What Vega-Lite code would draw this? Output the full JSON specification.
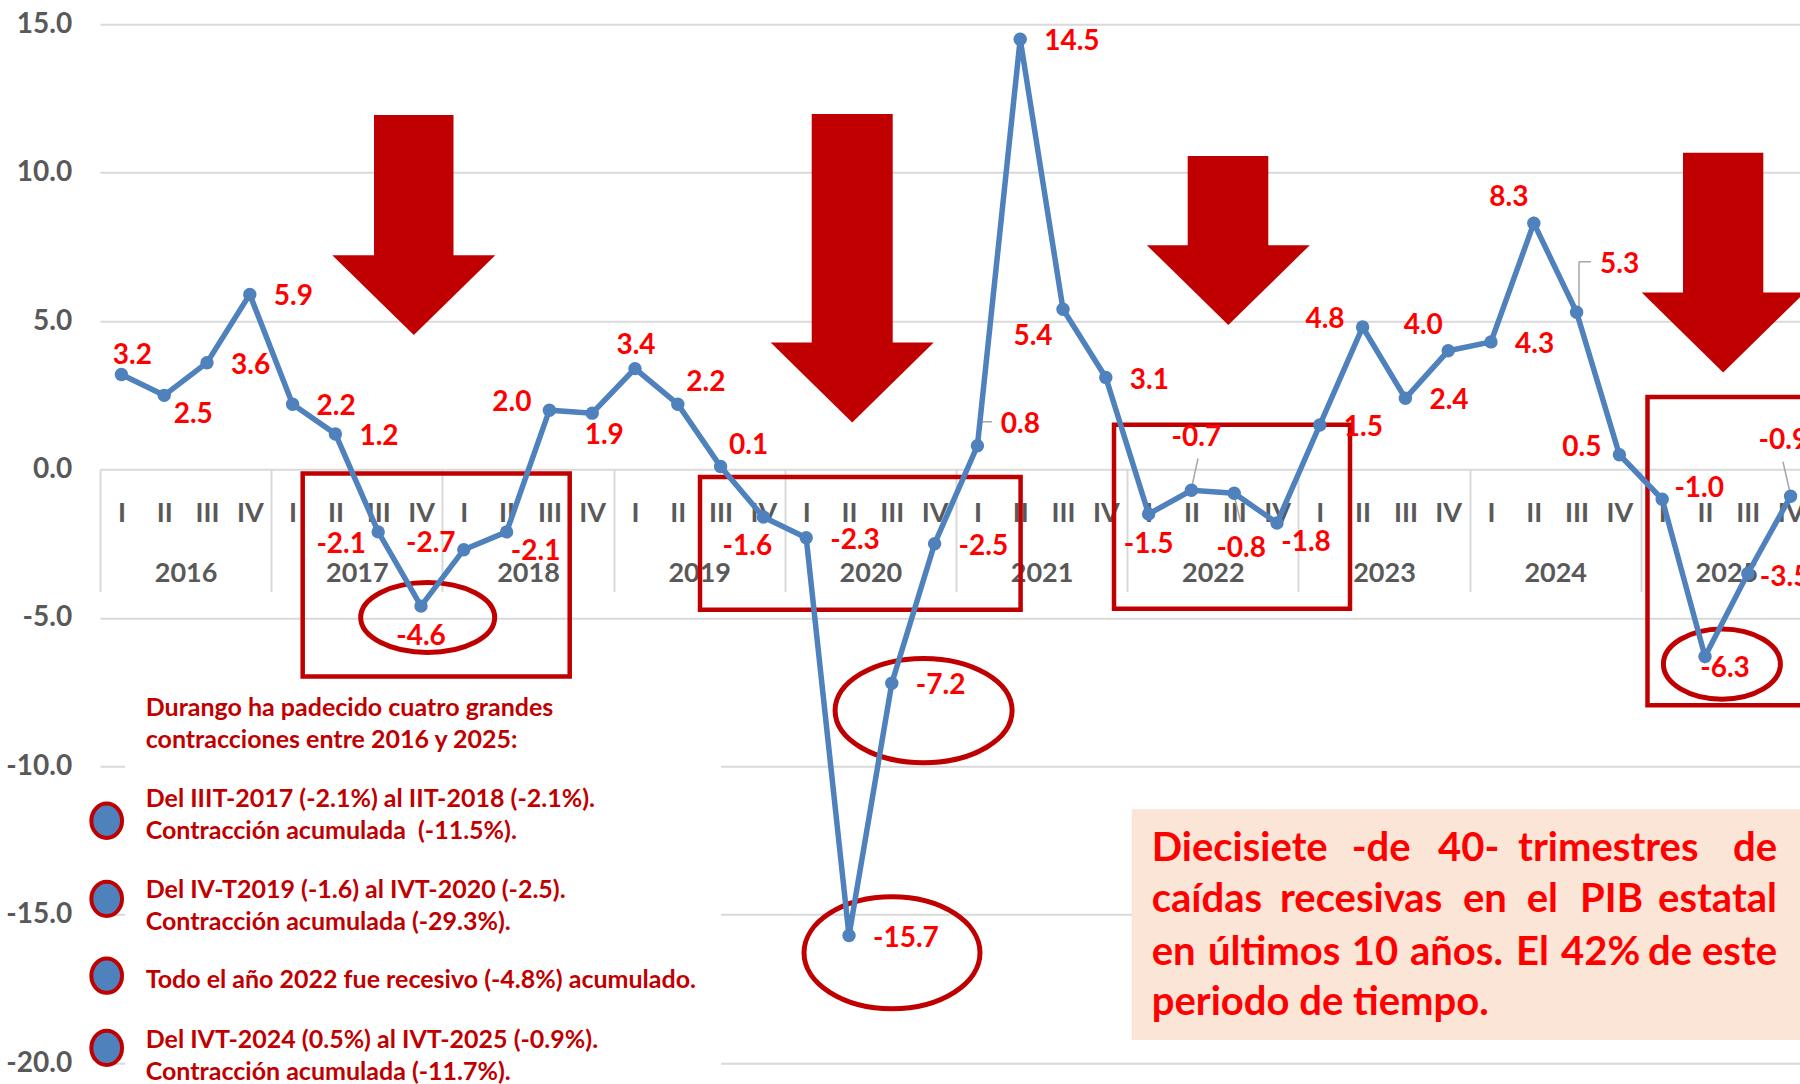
{
  "$schema": "https://vega.github.io/schema/vega-lite/v6.json",
  "width": 1700,
  "height": 1038.9,
  "autosize": {"type": "none"},
  "padding": {"left": 100, "top": 24.3, "right": 0, "bottom": 20.8},
  "background": "#FFFFFF",
  "config": {
    "view": {"stroke": null},
    "locale": {"number": {"decimal": ".", "thousands": ",", "grouping": [3], "currency": ["$", ""], "minus": "-"}},
    "text": {"font": "Lato", "fontWeight": "bold", "fontSize": 28, "color": "#FF0000", "baseline": "middle"}
  },
  "datasets": {
    "pib": [
      {"anio": 2016, "trim": "I", "periodo": 2016.125, "pib": 3.2},
      {"anio": 2016, "trim": "II", "periodo": 2016.375, "pib": 2.5},
      {"anio": 2016, "trim": "III", "periodo": 2016.625, "pib": 3.6},
      {"anio": 2016, "trim": "IV", "periodo": 2016.875, "pib": 5.9},
      {"anio": 2017, "trim": "I", "periodo": 2017.125, "pib": 2.2},
      {"anio": 2017, "trim": "II", "periodo": 2017.375, "pib": 1.2},
      {"anio": 2017, "trim": "III", "periodo": 2017.625, "pib": -2.1},
      {"anio": 2017, "trim": "IV", "periodo": 2017.875, "pib": -4.6},
      {"anio": 2018, "trim": "I", "periodo": 2018.125, "pib": -2.7},
      {"anio": 2018, "trim": "II", "periodo": 2018.375, "pib": -2.1},
      {"anio": 2018, "trim": "III", "periodo": 2018.625, "pib": 2.0},
      {"anio": 2018, "trim": "IV", "periodo": 2018.875, "pib": 1.9},
      {"anio": 2019, "trim": "I", "periodo": 2019.125, "pib": 3.4},
      {"anio": 2019, "trim": "II", "periodo": 2019.375, "pib": 2.2},
      {"anio": 2019, "trim": "III", "periodo": 2019.625, "pib": 0.1},
      {"anio": 2019, "trim": "IV", "periodo": 2019.875, "pib": -1.6},
      {"anio": 2020, "trim": "I", "periodo": 2020.125, "pib": -2.3},
      {"anio": 2020, "trim": "II", "periodo": 2020.375, "pib": -15.7},
      {"anio": 2020, "trim": "III", "periodo": 2020.625, "pib": -7.2},
      {"anio": 2020, "trim": "IV", "periodo": 2020.875, "pib": -2.5},
      {"anio": 2021, "trim": "I", "periodo": 2021.125, "pib": 0.8},
      {"anio": 2021, "trim": "II", "periodo": 2021.375, "pib": 14.5},
      {"anio": 2021, "trim": "III", "periodo": 2021.625, "pib": 5.4},
      {"anio": 2021, "trim": "IV", "periodo": 2021.875, "pib": 3.1},
      {"anio": 2022, "trim": "I", "periodo": 2022.125, "pib": -1.5},
      {"anio": 2022, "trim": "II", "periodo": 2022.375, "pib": -0.7},
      {"anio": 2022, "trim": "III", "periodo": 2022.625, "pib": -0.8},
      {"anio": 2022, "trim": "IV", "periodo": 2022.875, "pib": -1.8},
      {"anio": 2023, "trim": "I", "periodo": 2023.125, "pib": 1.5},
      {"anio": 2023, "trim": "II", "periodo": 2023.375, "pib": 4.8},
      {"anio": 2023, "trim": "III", "periodo": 2023.625, "pib": 2.4},
      {"anio": 2023, "trim": "IV", "periodo": 2023.875, "pib": 4.0},
      {"anio": 2024, "trim": "I", "periodo": 2024.125, "pib": 4.3},
      {"anio": 2024, "trim": "II", "periodo": 2024.375, "pib": 8.3},
      {"anio": 2024, "trim": "III", "periodo": 2024.625, "pib": 5.3},
      {"anio": 2024, "trim": "IV", "periodo": 2024.875, "pib": 0.5},
      {"anio": 2025, "trim": "I", "periodo": 2025.125, "pib": -1.0},
      {"anio": 2025, "trim": "II", "periodo": 2025.375, "pib": -6.3},
      {"anio": 2025, "trim": "III", "periodo": 2025.625, "pib": -3.5},
      {"anio": 2025, "trim": "IV", "periodo": 2025.875, "pib": -0.9}
    ],
    "flechas": [
      {"t1": 2017.6005, "t2": 2018.0648, "v1": 11.947, "v2": 7.1},
      {"t1": 2020.1572, "t2": 2020.6303, "v1": 11.974, "v2": 4.15},
      {"t1": 2022.3533, "t2": 2022.8242, "v1": 10.559, "v2": 7.43},
      {"t1": 2025.2465, "t2": 2025.7156, "v1": 10.67, "v2": 5.86}
    ],
    "puntas": [
      {"t": 2017.8329, "v": 5.877},
      {"t": 2020.3937, "v": 2.934},
      {"t": 2022.5906, "v": 6.214},
      {"t": 2025.4813, "v": 4.618}
    ],
    "cajas": [
      {"t1": 2017.184, "t2": 2018.7436, "v1": -0.135, "v2": -6.972},
      {"t1": 2019.5047, "t2": 2021.3773, "v1": -0.253, "v2": -4.722},
      {"t1": 2021.9229, "t2": 2023.3014, "v1": 1.509, "v2": -4.688},
      {"t1": 2025.0391, "t2": 2026.5, "v1": 2.442, "v2": -7.942}
    ],
    "guias": [
      {"t1": 2021.132, "v1": 0.882, "t2": 2021.132, "v2": 1.61},
      {"t1": 2021.132, "v1": 1.61, "t2": 2021.2103, "v2": 1.61},
      {"t1": 2022.3756, "v1": -0.633, "t2": 2022.4136, "v2": 0.377},
      {"t1": 2022.6238, "v1": -0.859, "t2": 2022.6624, "v2": -1.758},
      {"t1": 2024.639, "v1": 5.315, "t2": 2024.639, "v2": 6.999},
      {"t1": 2024.639, "v1": 6.999, "t2": 2024.7091, "v2": 6.999},
      {"t1": 2025.8773, "v1": -0.916, "t2": 2025.8306, "v2": 0.263}
    ],
    "vinetas": [
      {"t": 2016.0391, "v": -11.832},
      {"t": 2016.0391, "v": -14.463},
      {"t": 2016.0391, "v": -17.053},
      {"t": 2016.0391, "v": -19.485}
    ],
    "notas": [
      {"texto": "Durango ha padecido cuatro grandes", "t": 2016.2669, "v": -8.05},
      {"texto": "contracciones entre 2016 y 2025:", "t": 2016.2669, "v": -9.128},
      {"texto": "Del IIIT-2017 (-2.1%) al IIT-2018 (-2.1%).", "t": 2016.2669, "v": -11.098},
      {"texto": "Contracción acumulada \u00a0(-11.5%).", "t": 2016.2669, "v": -12.176},
      {"texto": "Del IV-T2019 (-1.6) al IVT-2020 (-2.5).", "t": 2016.2669, "v": -14.15},
      {"texto": "Contracción acumulada (-29.3%).", "t": 2016.2669, "v": -15.23},
      {"texto": "Todo el año 2022 fue recesivo (-4.8%) acumulado.", "t": 2016.2669, "v": -17.201},
      {"texto": "Del IVT-2024 (0.5%) al IVT-2025 (-0.9%).", "t": 2016.2669, "v": -19.215},
      {"texto": "Contracción acumulada (-11.7%).", "t": 2016.2669, "v": -20.293}
    ],
    "recuadro": [
      {"texto": "Diecisiete", "t": 2022.1431, "v": -12.775},
      {"texto": "-de", "t": 2023.3113, "v": -12.775},
      {"texto": "40-", "t": 2023.8154, "v": -12.775},
      {"texto": "trimestres", "t": 2024.2827, "v": -12.775},
      {"texto": "caídas", "t": 2022.1431, "v": -14.493},
      {"texto": "recesivas", "t": 2022.8925, "v": -14.493},
      {"texto": "en", "t": 2023.9614, "v": -14.493},
      {"texto": "el", "t": 2024.3335, "v": -14.493},
      {"texto": "PIB", "t": 2024.6449, "v": -14.493},
      {"texto": "en", "t": 2022.1431, "v": -16.278},
      {"texto": "últimos", "t": 2022.472, "v": -16.278},
      {"texto": "10", "t": 2023.3113, "v": -16.278},
      {"texto": "años.", "t": 2023.6519, "v": -16.278},
      {"texto": "El", "t": 2024.271, "v": -16.278},
      {"texto": "42%", "t": 2024.5339, "v": -16.278},
      {"texto": "de", "t": 2025.0421, "v": -16.278},
      {"texto": "periodo de tiempo.", "t": 2022.1431, "v": -17.979}
    ],
    "recuadro_fin": [
      {"texto": "de", "t": 2025.7956, "v": -12.775},
      {"texto": "estatal", "t": 2025.7956, "v": -14.493},
      {"texto": "este", "t": 2025.7956, "v": -16.278}
    ]
  },
  "resolve": {"axis": {"x": "independent", "y": "independent"}},
  "layer": [
    {
      "data": {"name": "pib"},
      "mark": {"type": "point", "opacity": 0, "size": 1},
      "encoding": {
        "x": {"field": "periodo", "type": "quantitative", "scale": {"domain": [2016, 2025.9299], "nice": false, "zero": false}, "axis": null},
        "y": {
          "field": "pib", "type": "quantitative",
          "scale": {"domain": [-20, 15], "nice": false, "zero": false},
          "axis": {
            "orient": "left", "title": null, "values": [-20, -15, -10, -5, 0, 5, 10, 15], "format": ".1f",
            "grid": true, "gridColor": "#D9D9D9", "gridWidth": 2, "domain": false, "ticks": false, "tickSize": 0,
            "labelPadding": 28.3, "labelFont": "Lato", "labelFontSize": 28, "labelFontWeight": "bold", "labelColor": "#595959"
          }
        }
      }
    },
    {
      "data": {"values": [{"t1": 2016.146, "t2": 2019.628, "v1": -7.49, "v2": -21}]},
      "mark": {"type": "rect", "fill": "#FFFFFF"},
      "encoding": {
        "x": {"field": "t1", "type": "quantitative", "axis": null},
        "x2": {"field": "t2"},
        "y": {"field": "v1", "type": "quantitative", "axis": null},
        "y2": {"field": "v2"}
      }
    },
    {
      "data": {"values": [{"t1": 2022.0262, "t2": 2026.5, "v1": -11.445, "v2": -19.215}]},
      "mark": {"type": "rect", "fill": "#FBE5D6"},
      "encoding": {
        "x": {"field": "t1", "type": "quantitative", "axis": null},
        "x2": {"field": "t2"},
        "y": {"field": "v1", "type": "quantitative", "axis": null},
        "y2": {"field": "v2"}
      }
    },
    {
      "data": {"name": "flechas"},
      "mark": {"type": "rect", "fill": "#C00000"},
      "encoding": {
        "x": {"field": "t1", "type": "quantitative", "axis": null},
        "x2": {"field": "t2"},
        "y": {"field": "v1", "type": "quantitative", "axis": null},
        "y2": {"field": "v2"}
      }
    },
    {
      "data": {"name": "puntas"},
      "mark": {"type": "point", "shape": "M-1,-0.49L1,-0.49L0,0.49Z", "size": 26569, "filled": true, "fill": "#C00000", "strokeWidth": 0, "opacity": 1},
      "encoding": {
        "x": {"field": "t", "type": "quantitative", "axis": null},
        "y": {"field": "v", "type": "quantitative", "axis": null}
      }
    },
    {
      "mark": {"type": "rule", "color": "#C00000", "strokeWidth": 7, "strokeDash": [21, 8]},
      "encoding": {"y": {"datum": 0, "type": "quantitative", "axis": null}}
    },
    {
      "data": {"name": "cajas"},
      "mark": {"type": "rect", "fillOpacity": 0, "stroke": "#C00000", "strokeWidth": 4.5},
      "encoding": {
        "x": {"field": "t1", "type": "quantitative", "axis": null},
        "x2": {"field": "t2"},
        "y": {"field": "v1", "type": "quantitative", "axis": null},
        "y2": {"field": "v2"}
      }
    },
    {
      "data": {"values": [{"t": 2017.914, "v": -4.985}]},
      "mark": {"type": "point", "shape": "M-1,0A1,0.522,0,1,0,1,0A1,0.522,0,1,0,-1,0Z", "size": 17956, "filled": false, "stroke": "#C00000", "strokeWidth": 5, "opacity": 1},
      "encoding": {"x": {"field": "t", "type": "quantitative", "axis": null}, "y": {"field": "v", "type": "quantitative", "axis": null}}
    },
    {
      "data": {"values": [{"t": 2020.8107, "v": -8.121}]},
      "mark": {"type": "point", "shape": "M-1,0A1,0.59,0,1,0,1,0A1,0.59,0,1,0,-1,0Z", "size": 31329, "filled": false, "stroke": "#C00000", "strokeWidth": 5, "opacity": 1},
      "encoding": {"x": {"field": "t", "type": "quantitative", "axis": null}, "y": {"field": "v", "type": "quantitative", "axis": null}}
    },
    {
      "data": {"values": [{"t": 2020.6262, "v": -16.281}]},
      "mark": {"type": "point", "shape": "M-1,0A1,0.636,0,1,0,1,0A1,0.636,0,1,0,-1,0Z", "size": 30976, "filled": false, "stroke": "#C00000", "strokeWidth": 5, "opacity": 1},
      "encoding": {"x": {"field": "t", "type": "quantitative", "axis": null}, "y": {"field": "v", "type": "quantitative", "axis": null}}
    },
    {
      "data": {"values": [{"t": 2025.4737, "v": -6.554}]},
      "mark": {"type": "point", "shape": "M-1,0A1,0.6,0,1,0,1,0A1,0.6,0,1,0,-1,0Z", "size": 13689, "filled": false, "stroke": "#C00000", "strokeWidth": 5, "opacity": 1},
      "encoding": {"x": {"field": "t", "type": "quantitative", "axis": null}, "y": {"field": "v", "type": "quantitative", "axis": null}}
    },
    {
      "data": {"name": "guias"},
      "mark": {"type": "rule", "color": "#A6A6A6", "strokeWidth": 1.5},
      "encoding": {
        "x": {"field": "t1", "type": "quantitative", "axis": null},
        "x2": {"field": "t2"},
        "y": {"field": "v1", "type": "quantitative", "axis": null},
        "y2": {"field": "v2"}
      }
    },
    {
      "data": {"name": "pib"},
      "mark": {"type": "line", "color": "#4F81BD", "strokeWidth": 5.5},
      "encoding": {
        "x": {
          "field": "periodo", "type": "quantitative",
          "axis": {
            "orient": "bottom", "offset": -593.6, "title": null, "grid": false, "domain": false, "ticks": false, "tickSize": 0,
            "values": [2016.125, 2016.375, 2016.625, 2016.875, 2017.125, 2017.375, 2017.625, 2017.875, 2018.125, 2018.375, 2018.625, 2018.875, 2019.125, 2019.375, 2019.625, 2019.875, 2020.125, 2020.375, 2020.625, 2020.875, 2021.125, 2021.375, 2021.625, 2021.875, 2022.125, 2022.375, 2022.625, 2022.875, 2023.125, 2023.375, 2023.625, 2023.875, 2024.125, 2024.375, 2024.625, 2024.875, 2025.125, 2025.375, 2025.625, 2025.875],
            "labelExpr": "['I','II','III','IV'][round((datum.value - floor(datum.value)) * 4 - 0.5)]",
            "labelPadding": 30.6, "labelFont": "Lato", "labelFontSize": 27, "labelFontWeight": "bold", "labelColor": "#595959",
            "labelFlush": false, "labelOverlap": false, "labelBound": false
          }
        },
        "y": {"field": "pib", "type": "quantitative", "axis": null}
      }
    },
    {
      "data": {"name": "pib"},
      "mark": {"type": "point", "filled": true, "color": "#4F81BD", "size": 180, "opacity": 1},
      "encoding": {
        "x": {
          "field": "periodo", "type": "quantitative",
          "axis": {
            "orient": "bottom", "offset": -593.6, "title": null, "grid": false, "domain": false, "ticks": false, "tickSize": 0,
            "values": [2016.5, 2017.5, 2018.5, 2019.5, 2020.5, 2021.5, 2022.5, 2023.5, 2024.5, 2025.5],
            "labelExpr": "floor(datum.value)",
            "labelPadding": 90.6, "labelFont": "Lato", "labelFontSize": 27, "labelFontWeight": "bold", "labelColor": "#595959",
            "labelFlush": false, "labelOverlap": false, "labelBound": false
          }
        },
        "y": {"field": "pib", "type": "quantitative", "axis": null}
      }
    },
    {
      "data": {"name": "pib"},
      "encoding": {
        "x": {
          "field": "periodo", "type": "quantitative",
          "axis": {
            "orient": "bottom", "offset": -593.6, "title": null, "grid": false, "domain": false, "labels": false,
            "ticks": true, "tickSize": 122, "tickColor": "#D9D9D9", "tickWidth": 2,
            "values": [2016, 2017, 2018, 2019, 2020, 2021, 2022, 2023, 2024, 2025]
          }
        },
        "y": {"field": "pib", "type": "quantitative", "axis": null},
        "text": {"field": "pib", "type": "quantitative", "format": ".1f"}
      },
      "layer": [
        {"transform": [{"filter": {"field": "periodo", "oneOf": [2016.625, 2016.875, 2017.125, 2017.375, 2020.125, 2020.375, 2020.625, 2020.875, 2021.375, 2021.875, 2023.125, 2023.625, 2024.125]}}], "mark": {"type": "text", "align": "left", "dx": 24, "dy": 3}},
        {"transform": [{"filter": {"field": "periodo", "oneOf": [2018.625, 2023.375, 2024.875]}}], "mark": {"type": "text", "align": "right", "dx": -18, "dy": -7}},
        {"transform": [{"filter": {"field": "periodo", "oneOf": [2017.875, 2022.125]}}], "mark": {"type": "text", "align": "center", "dx": 0, "dy": 31}},
        {"transform": [{"filter": {"field": "periodo", "oneOf": [2016.375, 2018.375, 2022.875]}}], "mark": {"type": "text", "align": "center", "dx": 29, "dy": 20}},
        {"transform": [{"filter": {"field": "periodo", "oneOf": [2019.375, 2019.625]}}], "mark": {"type": "text", "align": "center", "dx": 28, "dy": -21}},
        {"transform": [{"filter": {"field": "periodo", "oneOf": [2023.875, 2024.375]}}], "mark": {"type": "text", "align": "center", "dx": -25, "dy": -25}},
        {"transform": [{"filter": {"field": "periodo", "oneOf": [2016.125]}}], "mark": {"type": "text", "align": "center", "dx": 11, "dy": -19}},
        {"transform": [{"filter": {"field": "periodo", "oneOf": [2017.625]}}], "mark": {"type": "text", "align": "center", "dx": -37, "dy": 13}},
        {"transform": [{"filter": {"field": "periodo", "oneOf": [2018.125]}}], "mark": {"type": "text", "align": "center", "dx": -33, "dy": -6}},
        {"transform": [{"filter": {"field": "periodo", "oneOf": [2018.875]}}], "mark": {"type": "text", "align": "center", "dx": 12, "dy": 23}},
        {"transform": [{"filter": {"field": "periodo", "oneOf": [2019.125]}}], "mark": {"type": "text", "align": "center", "dx": 1, "dy": -23}},
        {"transform": [{"filter": {"field": "periodo", "oneOf": [2019.875]}}], "mark": {"type": "text", "align": "center", "dx": -16, "dy": 30}},
        {"transform": [{"filter": {"field": "periodo", "oneOf": [2021.125]}}], "mark": {"type": "text", "align": "center", "dx": 43, "dy": -21}},
        {"transform": [{"filter": {"field": "periodo", "oneOf": [2021.625]}}], "mark": {"type": "text", "align": "center", "dx": -30, "dy": 28}},
        {"transform": [{"filter": {"field": "periodo", "oneOf": [2022.375]}}], "mark": {"type": "text", "align": "center", "dx": 5, "dy": -52}},
        {"transform": [{"filter": {"field": "periodo", "oneOf": [2022.625]}}], "mark": {"type": "text", "align": "center", "dx": 7, "dy": 56}},
        {"transform": [{"filter": {"field": "periodo", "oneOf": [2024.625]}}], "mark": {"type": "text", "align": "center", "dx": 43, "dy": -47}},
        {"transform": [{"filter": {"field": "periodo", "oneOf": [2025.125]}}], "mark": {"type": "text", "align": "center", "dx": 37, "dy": -10}},
        {"transform": [{"filter": {"field": "periodo", "oneOf": [2025.375]}}], "mark": {"type": "text", "align": "center", "dx": 20, "dy": 12}},
        {"transform": [{"filter": {"field": "periodo", "oneOf": [2025.625]}}], "mark": {"type": "text", "align": "left", "dx": 12, "dy": 5}},
        {"transform": [{"filter": {"field": "periodo", "oneOf": [2025.875]}}], "mark": {"type": "text", "align": "left", "dx": -32, "dy": -55}}
      ]
    },
    {
      "data": {"name": "vinetas"},
      "mark": {"type": "point", "shape": "M0,-1A0.895,1,0,1,0,0,1A0.895,1,0,1,0,0,-1Z", "size": 1176, "filled": true, "fill": "#4F81BD", "stroke": "#C00000", "strokeWidth": 4, "opacity": 1},
      "encoding": {"x": {"field": "t", "type": "quantitative", "axis": null}, "y": {"field": "v", "type": "quantitative", "axis": null}}
    },
    {
      "data": {"name": "notas"},
      "mark": {"type": "text", "align": "left", "baseline": "middle", "font": "Lato", "fontWeight": "bold", "fontSize": 25, "color": "#C00000"},
      "encoding": {
        "x": {"field": "t", "type": "quantitative", "axis": null},
        "y": {"field": "v", "type": "quantitative", "axis": null},
        "text": {"field": "texto", "type": "nominal"}
      }
    },
    {
      "data": {"name": "recuadro"},
      "mark": {"type": "text", "align": "left", "baseline": "middle", "font": "Lato", "fontWeight": "bold", "fontSize": 40, "color": "#FF0000"},
      "encoding": {
        "x": {"field": "t", "type": "quantitative", "axis": null},
        "y": {"field": "v", "type": "quantitative", "axis": null},
        "text": {"field": "texto", "type": "nominal"}
      }
    },
    {
      "data": {"name": "recuadro_fin"},
      "mark": {"type": "text", "align": "right", "baseline": "middle", "font": "Lato", "fontWeight": "bold", "fontSize": 40, "color": "#FF0000"},
      "encoding": {
        "x": {"field": "t", "type": "quantitative", "axis": null},
        "y": {"field": "v", "type": "quantitative", "axis": null},
        "text": {"field": "texto", "type": "nominal"}
      }
    }
  ]
}
